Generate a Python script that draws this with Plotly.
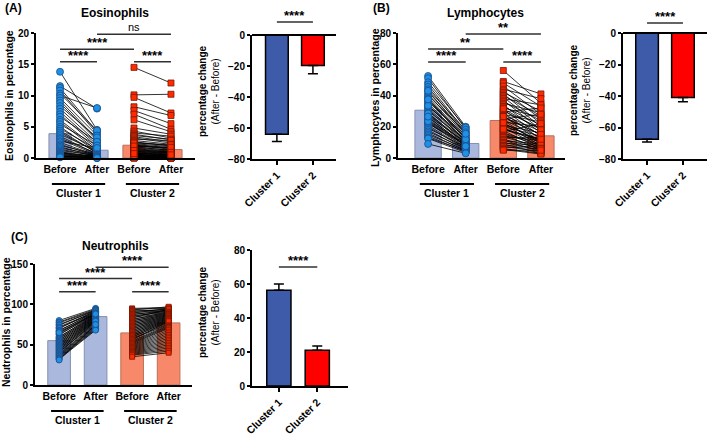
import plotly.graph_objects as go

W, H = 709, 436
FONT = "Liberation Sans, Arial, sans-serif"

# ---------------- data ----------------
groups = ["Before", "After", "Before", "After"]
clusters = ["Cluster 1", "Cluster 2"]

eos_c1_before = [13.8, 11.5, 11.2, 10.8, 10.3, 10.0, 9.6, 9.2, 8.8, 8.3, 7.9, 7.4, 7.0, 6.6, 6.1,
                 5.8, 5.4, 5.0, 4.7, 4.4, 4.1, 3.8, 3.5, 3.2, 3.0, 2.7, 2.5, 2.2, 2.0, 1.8, 1.6,
                 1.4, 1.2, 1.0, 0.9, 0.8, 0.7, 0.6, 0.5, 0.4, 0.3, 0.3, 0.2, 0.2, 0.1]
eos_c1_after = [4.5, 7.9, 4.2, 3.9, 4.4, 8.0, 3.6, 3.0, 2.8, 3.3, 2.5, 2.1, 1.8, 2.6, 1.5, 1.2,
                2.0, 1.0, 1.4, 0.8, 0.9, 1.1, 0.6, 0.7, 0.5, 1.6, 0.4, 0.3, 0.6, 0.2, 0.5, 0.3,
                0.4, 0.2, 0.1, 0.3, 0.2, 0.1, 0.2, 0.1, 0.1, 0.0, 0.1, 0.0, 0.0]
eos_c2_before = [14.5, 10.1, 9.7, 8.2, 7.6, 7.0, 6.1, 4.8, 4.3, 4.0, 3.8, 3.6, 3.4, 3.2, 3.0,
                 2.8, 2.6, 2.5, 2.3, 2.2, 2.1, 2.0, 1.9, 1.8, 1.7, 1.6, 1.5, 1.4, 1.3, 1.2, 1.1,
                 1.0, 1.0, 0.9, 0.8, 0.8, 0.7, 0.6, 0.6, 0.5, 0.5, 0.4, 0.4, 0.3, 0.3, 0.3, 0.2,
                 0.2, 0.2, 0.1, 0.1, 0.1, 0.1, 0.0, 0.0, 0.0, 2.4, 1.9, 1.2, 0.7]
eos_c2_after = [12.0, 10.2, 7.2, 6.8, 5.5, 4.6, 4.2, 3.8, 3.2, 3.5, 2.9, 3.0, 2.6, 2.4, 2.8, 2.2,
                1.9, 2.0, 1.8, 1.6, 1.5, 1.4, 1.6, 1.2, 1.3, 1.1, 1.0, 0.9, 1.0, 0.8, 0.7, 0.8,
                0.6, 0.5, 0.6, 0.4, 0.5, 0.3, 0.4, 0.3, 0.2, 0.3, 0.2, 0.2, 0.1, 0.2, 0.1, 0.1,
                0.0, 0.1, 0.0, 0.1, 0.0, 0.0, 0.1, 0.0, 2.1, 1.7, 0.9, 0.5]
eos_bar = [3.9, 1.25, 2.05, 1.35]
eos_change = [-64.0, -19.7]
eos_change_err = [4.7, 5.3]

lym_c1_before = [52.5, 51.0, 48.5, 47.0, 45.5, 44.0, 42.5, 41.0, 40.0, 39.0, 38.0, 37.0, 36.0,
                 35.0, 34.0, 33.0, 32.0, 31.0, 30.0, 29.0, 28.0, 27.0, 26.0, 25.0, 24.0, 23.0,
                 22.5, 22.0, 21.0, 20.0, 19.0, 18.0, 17.0, 16.0, 15.0, 14.0, 13.0, 12.5, 9.0,
                 23.5, 28.5, 33.5, 37.5, 43.0, 26.5]
lym_c1_after = [20.0, 18.5, 19.5, 17.0, 16.0, 18.0, 15.0, 14.0, 16.5, 13.0, 12.5, 12.0, 14.5,
                11.0, 10.5, 13.5, 10.0, 9.5, 11.5, 9.0, 8.5, 10.0, 8.0, 7.5, 9.0, 7.0, 6.5, 8.5,
                6.0, 5.5, 7.0, 5.0, 6.0, 4.5, 5.0, 4.0, 4.5, 3.5, 3.0, 8.0, 9.5, 11.0, 12.0,
                15.5, 7.5]
lym_c2_before = [56, 49, 48, 46, 44, 43, 42, 41, 40, 39, 38, 37, 36, 35, 34, 33, 32, 31, 30,
                 29.5, 29, 28, 27.5, 27, 26, 25, 24.5, 24, 23, 22, 21.5, 21, 20, 19.5, 19, 18,
                 17.5, 17, 16, 15.5, 15, 14, 13.5, 13, 12, 11.5, 11, 10, 9.5, 9, 8, 7.5, 7, 6,
                 5.5, 5, 31.5, 26.5, 22.5, 18.5]
lym_c2_after = [35, 41, 33, 28, 38, 25, 30, 22, 27, 20, 34, 18, 24, 29, 16, 21, 26, 14, 19, 32,
                12, 23, 17, 10, 15, 28, 13, 9, 20, 11, 8, 16, 14, 7, 10, 12, 6, 22, 9, 8, 5, 11,
                7, 13, 6, 4, 9, 5, 8, 3, 7, 4, 6, 3, 2.5, 5, 18, 15, 10, 12]
lym_bar = [30.6, 9.3, 24.0, 14.2]
lym_change = [-67.4, -41.0]
lym_change_err = [1.8, 2.6]

neu_c1_before = [80, 78, 77, 75, 74, 72, 71, 70, 68, 67, 66, 64, 63, 62, 60, 59, 58, 57, 56,
                 55, 54, 53, 52, 51, 50, 49, 48, 47, 46, 45, 44, 43, 42, 41, 40, 39, 38, 37, 36,
                 35, 34, 33, 32, 31, 65]
neu_c1_after = [95, 94, 93, 92, 93, 91, 90, 92, 89, 91, 88, 90, 87, 89, 86, 88, 85, 87, 84,
                86, 83, 85, 82, 84, 81, 83, 80, 82, 79, 81, 78, 80, 77, 76, 79, 75, 74, 73, 72,
                71, 70, 69, 68, 75, 88]
neu_c2_before = [95, 94, 93, 92, 91, 90, 89, 88, 87, 86, 85, 84, 83, 82, 81, 80, 79, 78, 77,
                 76, 75, 74, 73, 72, 71, 70, 69, 68, 67, 66, 65, 64, 63, 62, 61, 60, 59, 58, 57,
                 56, 55, 54, 53, 52, 51, 50, 49, 48, 47, 46, 45, 44, 43, 42, 41, 40, 39, 38, 37,
                 35]
neu_c2_after = [96, 95, 97, 93, 94, 92, 95, 91, 93, 90, 92, 89, 94, 88, 91, 87, 90, 86, 89,
                85, 88, 84, 87, 83, 86, 82, 85, 81, 84, 80, 83, 79, 82, 78, 81, 77, 80, 76, 75,
                79, 74, 73, 72, 71, 70, 68, 66, 64, 62, 60, 58, 56, 54, 52, 50, 48, 46, 44, 42,
                40]
neu_bar = [55.0, 84.8, 64.6, 77.0]
neu_change = [56.3, 21.0]
neu_change_err = [3.7, 2.5]

# ---------------- styles ----------------
C1_BAR, C1_BAR_LINE = "#a9b8dc", "#8490ad"
C2_BAR, C2_BAR_LINE = "#f7896a", "#b8705c"
C1_PT, C1_PT_LINE = "#1e90e6", "#1b4a86"
C2_PT, C2_PT_LINE = "#ff2a00", "#7a1800"
CH_COLORS = ["#3d5ba9", "#ff0000"]

fig = go.Figure()
shapes, annos = [], []


def dom_x(a, b):
    return [a / W, b / W]


def dom_y(top, bottom):
    return [1 - bottom / H, 1 - top / H]


def text(x, y, s, size=10, xref="paper", yref="paper", angle=0, xa="center", ya="middle", yshift=0):
    annos.append(dict(x=x, y=y, xref=xref, yref=yref, text=s, showarrow=False, textangle=angle,
                      xanchor=xa, yanchor=ya, yshift=yshift,
                      font=dict(family=FONT, size=size, color="black")))


def bracket(xr, yr, x0, x1, y, label, ydomain=False):
    yref = (yr + " domain") if ydomain else yr
    shapes.append(dict(type="line", xref=xr, yref=yref, x0=x0, x1=x1, y0=y, y1=y,
                       line=dict(color="#303030", width=1.5)))
    star = "*" in label
    text((x0 + x1) / 2, y, label, size=13 if star else 11, xref=xr, yref=yref,
         ya="bottom", yshift=-3 if star else -1)


AX = dict(showline=True, linewidth=2, linecolor="black", showgrid=False, zeroline=False,
          automargin=False, fixedrange=True,
          tickfont=dict(family=FONT, size=10, color="black", weight="bold"))


def left_panel(n, xdom, ydom, xrange, yrange, yticks, data, bars, bw, msize):
    xa, ya = ("x" if n == 1 else f"x{n}"), ("y" if n == 1 else f"y{n}")
    c1b, c1a, c2b, c2a = data
    fig.add_trace(go.Bar(x=[0, 1, 2, 3], y=bars, width=bw, xaxis=xa, yaxis=ya,
                         marker=dict(color=[C1_BAR, C1_BAR, C2_BAR, C2_BAR],
                                     line=dict(color=[C1_BAR_LINE, C1_BAR_LINE, C2_BAR_LINE, C2_BAR_LINE], width=1))))
    lx, ly = [], []
    for b, a in zip(c1b, c1a):
        lx += [0, 1, None]
        ly += [b, a, None]
    for b, a in zip(c2b, c2a):
        lx += [2, 3, None]
        ly += [b, a, None]
    fig.add_trace(go.Scatter(x=lx, y=ly, mode="lines", xaxis=xa, yaxis=ya,
                             line=dict(color="black", width=0.8), cliponaxis=False))
    fig.add_trace(go.Scatter(x=[0] * len(c1b) + [1] * len(c1a), y=c1b + c1a, mode="markers",
                             xaxis=xa, yaxis=ya, cliponaxis=False,
                             marker=dict(symbol="circle", size=msize, color=C1_PT,
                                         line=dict(color=C1_PT_LINE, width=0.8))))
    fig.add_trace(go.Scatter(x=[2] * len(c2b) + [3] * len(c2a), y=c2b + c2a, mode="markers",
                             xaxis=xa, yaxis=ya, cliponaxis=False,
                             marker=dict(symbol="square", size=msize - 1, color=C2_PT,
                                         line=dict(color=C2_PT_LINE, width=0.8))))
    key = "" if n == 1 else str(n)
    fig.layout["xaxis" + key] = dict(AX, domain=xdom, range=xrange, anchor=ya,
                                     tickvals=[0, 1, 2, 3], ticktext=groups, ticks="",
                                     tickfont=dict(family=FONT, size=10.5, color="black", weight="bold"))
    fig.layout["yaxis" + key] = dict(AX, domain=ydom, range=yrange, anchor=xa,
                                     tickvals=yticks, ticks="outside", ticklen=3, tickwidth=1.5,
                                     tickcolor="black")
    return xa, ya


def cluster_labels(xa, ya, yline, ytext):
    for k, name in zip([0, 2], clusters):
        shapes.append(dict(type="line", xref=xa, yref=ya + " domain", x0=k - 0.22, x1=k + 1.22,
                           y0=yline, y1=yline, line=dict(color="black", width=2)))
        text(k + 0.5, ytext, "<b>" + name + "</b>", size=10.5, xref=xa, yref=ya + " domain")


def right_panel(n, xdom, ydom, xrange, yrange, yticks, vals, errs):
    xa, ya = f"x{n}", f"y{n}"
    plus = [e if v > 0 else 0 for v, e in zip(vals, errs)]
    minus = [e if v < 0 else 0 for v, e in zip(vals, errs)]
    fig.add_trace(go.Bar(x=[0, 1], y=vals, width=0.63, xaxis=xa, yaxis=ya,
                         marker=dict(color=CH_COLORS, line=dict(color="black", width=1.5)),
                         error_y=dict(type="data", symmetric=False, array=plus, arrayminus=minus,
                                      color="black", thickness=1.5, width=5)))
    fig.layout[f"xaxis{n}"] = dict(AX, domain=xdom, range=xrange, anchor=ya,
                                   tickvals=[0, 1], ticktext=clusters, tickangle=-45,
                                   ticks="outside", ticklen=4, tickwidth=1.5, tickcolor="black",
                                   tickfont=dict(family=FONT, size=10.5, color="black", weight="bold"))
    fig.layout[f"yaxis{n}"] = dict(AX, domain=ydom, range=yrange, anchor=xa,
                                   tickvals=yticks, ticks="outside", ticklen=3, tickwidth=1.5,
                                   tickcolor="black")
    if yrange[1] == 0:
        shapes.append(dict(type="line", xref=xa + " domain", yref=ya + " domain", x0=0, x1=1,
                           y0=1, y1=1, line=dict(color="black", width=2)))
    return xa, ya


# ---------------- panel A ----------------
xa, ya = left_panel(1, dom_x(36, 195), dom_y(33, 158), [-0.65, 3.65], [0, 20], [0, 5, 10, 15, 20],
                    (eos_c1_before, eos_c1_after, eos_c2_before, eos_c2_after), eos_bar, 0.6, 7)
bracket(xa, ya, 0, 1, 15.4, "<b>****</b>")
bracket(xa, ya, 0, 2, 17.4, "<b>****</b>")
bracket(xa, ya, 1, 3, 19.8, "ns")
bracket(xa, ya, 2, 3, 15.4, "<b>****</b>")
cluster_labels(xa, ya, -0.208, -0.28)
text(9 / W, 1 - 96 / H, "<b>Eosinophils in percentage</b>", size=10.5, angle=-90)
text(115 / W, 1 - 13.5 / H, "<b>Eosinophils</b>", size=12)
text(13 / W, 1 - 8 / H, "<b>(A)</b>", size=12)

xa, ya = right_panel(2, dom_x(252, 336), dom_y(35, 159), [-0.69, 1.64], [-80, 0],
                     [0, -20, -40, -60, -80], eos_change, eos_change_err)
bracket(xa, ya, 0, 1, 1.105, "<b>****</b>", ydomain=True)
text(209 / W, 1 - 91 / H, "<b>percentage change</b><br>(After - Before)", size=10, angle=-90)

# ---------------- panel B ----------------
xa, ya = left_panel(3, dom_x(398, 565), dom_y(33, 158), [-0.8, 3.64], [0, 80], [0, 20, 40, 60, 80],
                    (lym_c1_before, lym_c1_after, lym_c2_before, lym_c2_after), lym_bar, 0.7, 7)
bracket(xa, ya, 0, 1, 61.4, "<b>****</b>")
bracket(xa, ya, 0, 2, 69.8, "<b>**</b>")
bracket(xa, ya, 1, 3, 79.4, "<b>**</b>")
bracket(xa, ya, 2, 3, 61.4, "<b>****</b>")
cluster_labels(xa, ya, -0.208, -0.28)
text(375 / W, 1 - 97 / H, "<b>Lymphocytes in percentage</b>", size=10.5, angle=-90)
text(485 / W, 1 - 13.5 / H, "<b>Lymphocytes</b>", size=12)
text(381 / W, 1 - 8 / H, "<b>(B)</b>", size=12)

xa, ya = right_panel(4, dom_x(623, 707), dom_y(33, 159), [-0.67, 1.67], [-80, 0],
                     [0, -20, -40, -60, -80], lym_change, lym_change_err)
bracket(xa, ya, 0, 1, 1.079, "<b>****</b>", ydomain=True)
text(580 / W, 1 - 90 / H, "<b>percentage change</b><br>(After - Before)", size=10, angle=-90)

# ---------------- panel C ----------------
xa, ya = left_panel(5, dom_x(35, 192), dom_y(264, 385), [-0.66, 3.64], [0, 150], [0, 50, 100, 150],
                    (neu_c1_before, neu_c1_after, neu_c2_before, neu_c2_after), neu_bar, 0.62, 6)
bracket(xa, ya, 0, 1, 115.5, "<b>****</b>")
bracket(xa, ya, 0, 2, 132.0, "<b>****</b>")
bracket(xa, ya, 1, 3, 146.0, "<b>****</b>")
bracket(xa, ya, 2, 3, 115.5, "<b>****</b>")
cluster_labels(xa, ya, -0.215, -0.29)
text(6 / W, 1 - 322 / H, "<b>Neutrophils in percentage</b>", size=10.5, angle=-90)
text(115 / W, 1 - 246 / H, "<b>Neutrophils</b>", size=12)
text(19 / W, 1 - 237 / H, "<b>(C)</b>", size=12)

xa, ya = right_panel(6, dom_x(252, 348), dom_y(250, 386), [-0.7, 1.8], [0, 80],
                     [0, 20, 40, 60, 80], neu_change, neu_change_err)
bracket(xa, ya, 0, 1, 70.0, "<b>****</b>")
text(209 / W, 1 - 312 / H, "<b>percentage change</b><br>(After - Before)", size=10, angle=-90)

fig.update_layout(width=W, height=H, margin=dict(l=0, r=0, t=0, b=0),
                  paper_bgcolor="white", plot_bgcolor="white", showlegend=False,
                  barmode="overlay", shapes=shapes, annotations=annos,
                  font=dict(family=FONT, color="black"))

fig.write_html("out.html", config={"displayModeBar": False},
               post_script="document.body.style.margin='0px';document.body.style.overflow='hidden';")
